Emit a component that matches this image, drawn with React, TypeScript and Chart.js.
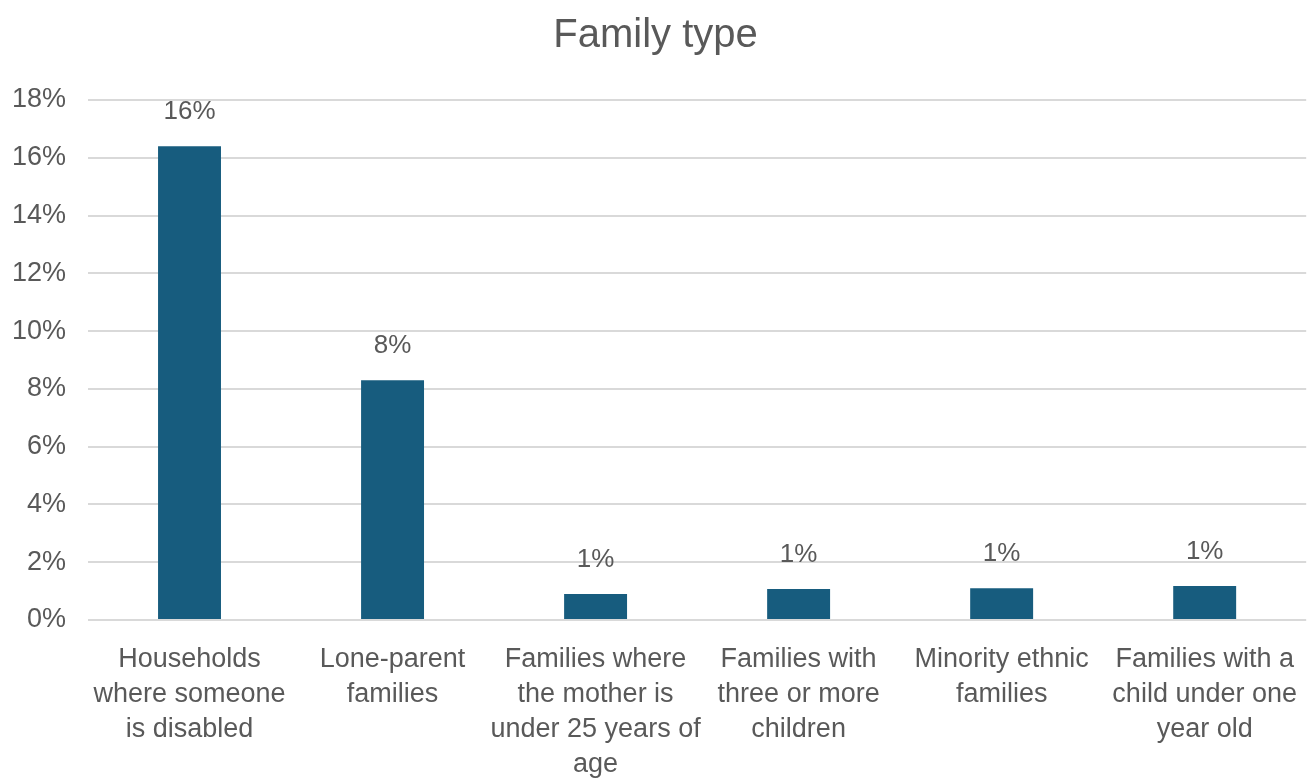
import React, { useEffect, useRef } from "react";
import { Chart, registerables } from "chart.js";

Chart.register(...registerables);

const categories: string[][] = [
  ["Households", "where someone", "is disabled"],
  ["Lone-parent", "families"],
  ["Families where", "the mother is", "under 25 years of", "age"],
  ["Families with", "three or more", "children"],
  ["Minority ethnic", "families"],
  ["Families with a", "child under one", "year old"],
];
const values: number[] = [16.4, 8.3, 0.9, 1.07, 1.1, 1.18];
const yTicks: number[] = [0, 2, 4, 6, 8, 10, 12, 14, 16, 18];

const TEXT = "#595959";
const FONT = "'Liberation Sans', Arial, sans-serif";

const labelPlugin = {
  id: "barLabels",
  afterDatasetsDraw(chart: any) {
    const ctx = chart.ctx;
    const meta = chart.getDatasetMeta(0);
    ctx.save();
    ctx.font = `26px ${FONT}`;
    ctx.fillStyle = TEXT;
    ctx.textAlign = "center";
    ctx.textBaseline = "middle";
    meta.data.forEach((bar: any, i: number) => {
      ctx.fillText(Math.round(values[i]) + "%", bar.x, bar.y - 34);
    });
    ctx.restore();
  },
};

export default function App() {
  const ref = useRef<HTMLCanvasElement>(null);
  useEffect(() => {
    const chart = new Chart(ref.current!, {
      type: "bar",
      data: {
        labels: categories,
        datasets: [
          {
            data: values,
            backgroundColor: "#175c7e",
            categoryPercentage: 1,
            barPercentage: 0.31,
          },
        ],
      },
      options: {
        animation: false,
        responsive: true,
        maintainAspectRatio: false,
        layout: { padding: { left: 0, right: 0, top: 0, bottom: 0 } },
        plugins: {
          legend: { display: false },
          tooltip: { enabled: false },
          title: {
            display: true,
            text: "Family type",
            color: TEXT,
            font: { family: FONT, size: 40, weight: "normal" },
            padding: { top: 12, bottom: 40 },
          },
        },
        scales: {
          y: {
            min: 0,
            max: 18,
            afterFit: (s: any) => {
              s.width = 88;
            },
            afterBuildTicks: (s: any) => {
              s.ticks = yTicks.map((v) => ({ value: v }));
            },
            ticks: {
              color: TEXT,
              font: { family: FONT, size: 27 },
              padding: 22,
              callback: (v: any) => v + "%",
            },
            grid: { color: "#d9d9d9", lineWidth: 2, drawTicks: false },
            border: { display: false },
          },
          x: {
            afterFit: (s: any) => {
              s.height = 158;
            },
            ticks: {
              color: TEXT,
              font: { family: FONT, size: 27, lineHeight: 1.3 },
              padding: 14,
              maxRotation: 0,
              autoSkip: false,
            },
            grid: { display: false },
            border: { display: false },
          },
        },
      },
      plugins: [labelPlugin],
    });
    return () => chart.destroy();
  }, []);
  return (
    <div style={{ position: "fixed", left: 0, top: 0, width: 1311, height: 778, background: "#fff" }}>
      <canvas ref={ref} />
    </div>
  );
}
